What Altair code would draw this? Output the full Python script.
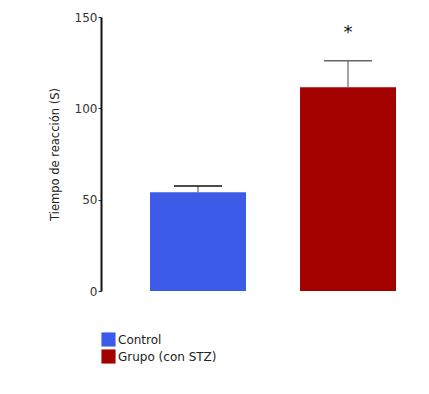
import altair as alt
import pandas as pd

groups = ["Control", "Grupo (con STZ)"]
means = [54, 111.5]
errors = [3.5, 14.5]
colors = ["#3b5be8", "#a30000"]
cap_colors = ["#111111", "#666666"]
star_label = ["", "*"]
star_value = [None, 143]
y_ticks = [0, 50, 100, 150]

df = pd.DataFrame({
    "group": groups,
    "mean": means,
    "err": errors,
    "top": [m + e for m, e in zip(means, errors)],
    "cap": cap_colors,
    "star": star_label,
    "star_y": star_value,
})

FONT = "DejaVu Sans"

xenc = alt.X("group:N", axis=None,
             scale=alt.Scale(domain=groups, paddingInner=0.36, paddingOuter=0.2133, align=0.766))

bars = alt.Chart(df).mark_bar(size=96, opacity=1).encode(
    x=xenc,
    y=alt.Y("mean:Q", scale=alt.Scale(domain=[0, 150], nice=False),
            axis=alt.Axis(values=y_ticks, title="Tiempo de reacción (S)", grid=False,
                          domainColor="#111111", domainWidth=2, tickColor="#333333",
                          tickSize=3, tickWidth=1, labelFont=FONT, labelFontSize=12,
                          labelColor="#333333", labelPadding=1, titleFont=FONT,
                          titleFontSize=11.5, titleFontWeight="normal", titleColor="#222222",
                          titlePadding=14)),
    color=alt.Color("group:N", scale=alt.Scale(domain=groups, range=colors),
                    legend=alt.Legend(title=None, orient="none", legendX=0, legendY=315,
                                      symbolType="square", symbolSize=200, symbolStrokeWidth=0,
                                      symbolOpacity=1, labelFont=FONT, labelFontSize=12,
                                      labelColor="#222222", labelOffset=2, rowPadding=2,
                                      padding=0)),
)

rules = alt.Chart(df).mark_rule(color="#666666", strokeWidth=1.2, opacity=1).encode(
    x=xenc, y="mean:Q", y2="top:Q")

caps = alt.Chart(df).mark_tick(orient="horizontal", size=48, thickness=1.5, opacity=1).encode(
    x=xenc, y="top:Q", color=alt.Color("cap:N", scale=None))

stars = alt.Chart(df).mark_text(font=FONT, fontSize=18, baseline="middle", color="#111111",
                                dy=3).encode(
    x=xenc, y="star_y:Q", text="star:N")

chart = alt.layer(bars, rules, caps, stars).properties(
    width=310, height=274,
    autosize=alt.AutoSizeParams(type="none"),
    padding={"left": 93, "top": 9, "right": 10, "bottom": 90},
    background="white",
).configure_view(stroke=None)

chart.save("out.html", embed_options={"renderer": "svg", "actions": False})
